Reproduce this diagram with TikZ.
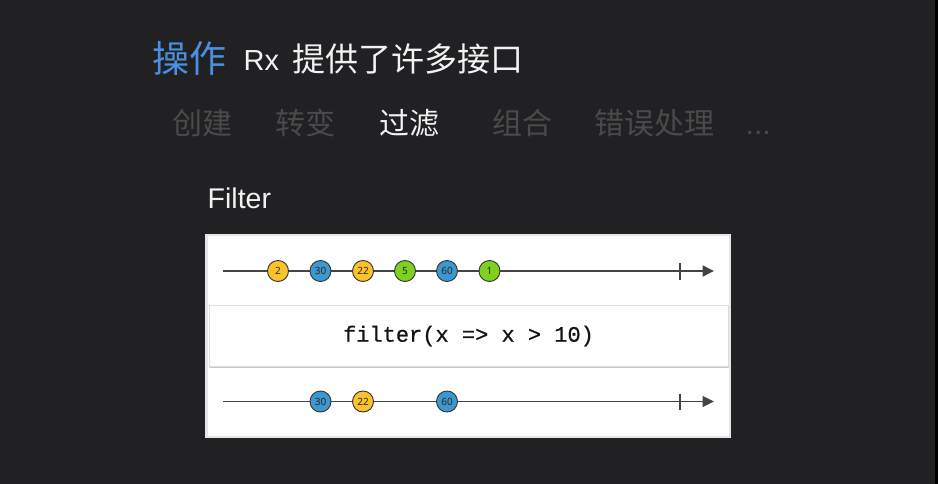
\documentclass[tikz,border=0pt]{standalone}
\usepackage{fontspec}
\setmainfont{Liberation Sans}
\newfontfamily\cjk{Noto Sans CJK SC}
\newfontfamily\codefont[FakeBold=0.6]{Liberation Mono}
\newfontfamily\marblefont{Noto Sans}
\usetikzlibrary{arrows.meta}
\usetikzlibrary{shadows}
\definecolor{slidebg}{HTML}{212123}
\definecolor{titleblue}{HTML}{4A90DE}
\definecolor{titlewhite}{HTML}{F2F2F2}
\definecolor{tabgray}{HTML}{4A4A4B}
\definecolor{panelrim}{HTML}{E6E6E6}
\definecolor{boxrim}{HTML}{DDDDDD}
\definecolor{linegray}{HTML}{444444}
\definecolor{marbleyellow}{HTML}{FCC22A}
\definecolor{marbleblue}{HTML}{3C98CF}
\definecolor{marblegreen}{HTML}{7FD11F}

\tikzset{
  tab/.style={anchor=base west, inner sep=0pt, text=tabgray, font=\cjk\fontsize{30}{30}\selectfont},
  marble/.style={circle, draw=black!80, line width=0.9pt, minimum size=21pt, inner sep=0pt,
    font=\marblefont\fontsize{10}{10}\selectfont, text=black!85},
  timeline/.style={draw=linegray, -{Triangle[length=11.5pt,width=11pt]}},
}

\begin{document}
\begin{tikzpicture}[x=1pt,y=-1pt]
      \useasboundingbox (0,0) rectangle (938,484);
      \fill[slidebg] (0,0) rectangle (938,484);
      \fill[black] (935,0) rectangle (938,484);
      % title line
      \node[anchor=base west, inner sep=0pt, text=titleblue, font=\cjk\fontsize{37}{37}\selectfont] (optitle) at (152,72.5) {操作};
      \node[anchor=base west, inner sep=0pt, text=titlewhite, font=\fontsize{29}{29}\selectfont] (rxtitle) at (243.5,70.5) {Rx};
      \node[anchor=base west, inner sep=0pt, text=titlewhite, font=\cjk\fontsize{33}{33}\selectfont] (apititle) at (292.5,71.3) {提供了许多接口};
      % tabs
      \node[tab] (create) at (172,135) {创建};
      \node[tab] (transform) at (275.5,135) {转变};
      \node[tab, text=titlewhite] (filtering) at (379,135) {过滤};
      \node[tab] (combine) at (492.5,135) {组合};
      \node[tab] (errors) at (594,135) {错误处理};
      \node[tab, font=\fontsize{30}{30}\selectfont] (more) at (745.5,135) {...};
      \node[anchor=base west, inner sep=0pt, text=titlewhite, font=\fontsize{28.5}{28.5}\selectfont] (filtername) at (207.5,208.3) {Filter};
      % marble panel
      \fill[panelrim] (205,234) rectangle (731,437.5);
      \fill[white] (207.5,236) rectangle (728.5,435.5);
      \node[draw=boxrim, fill=white, line width=0.6pt, minimum width=519pt, minimum height=61.5pt, inner sep=0pt,
        drop shadow={shadow xshift=0.6pt, shadow yshift=-1.5pt, opacity=0.22, fill=black},
        font=\codefont\fontsize{22}{22}\selectfont, text=black!92] (filterop) at (468.5,336) {filter(x => x > 10)};
      % source stream
      \coordinate (srcstart) at (223,271);
      \coordinate (srcend) at (714,271);
      \coordinate (srctop) at (680,263);
      \coordinate (srcbot) at (680,279.5);
      \draw[timeline, line width=1.9pt] (srcstart) -- (srcend);
      \draw[linegray, line width=1.3pt] (srctop) -- (srcbot);
      \node[marble, fill=marbleyellow] (src2) at (278,271) {2};
      \node[marble, fill=marbleblue] (src30) at (320.5,271) {30};
      \node[marble, fill=marbleyellow] (src22) at (363,271) {22};
      \node[marble, fill=marblegreen] (src5) at (405,271) {5};
      \node[marble, fill=marbleblue] (src60) at (447,271) {60};
      \node[marble, fill=marblegreen] (src1) at (489.5,271) {1};
      % result stream
      \coordinate (resstart) at (223,401.5);
      \coordinate (resend) at (714,401.5);
      \coordinate (restop) at (680,393.5);
      \coordinate (resbot) at (680,410);
      \draw[timeline, line width=1.3pt] (resstart) -- (resend);
      \draw[linegray, line width=1.3pt] (restop) -- (resbot);
      \node[marble, fill=marbleblue] (res30) at (320.5,401.5) {30};
      \node[marble, fill=marbleyellow] (res22) at (363,401.5) {22};
      \node[marble, fill=marbleblue] (res60) at (447,401.5) {60};

    \end{tikzpicture}
\end{document}
